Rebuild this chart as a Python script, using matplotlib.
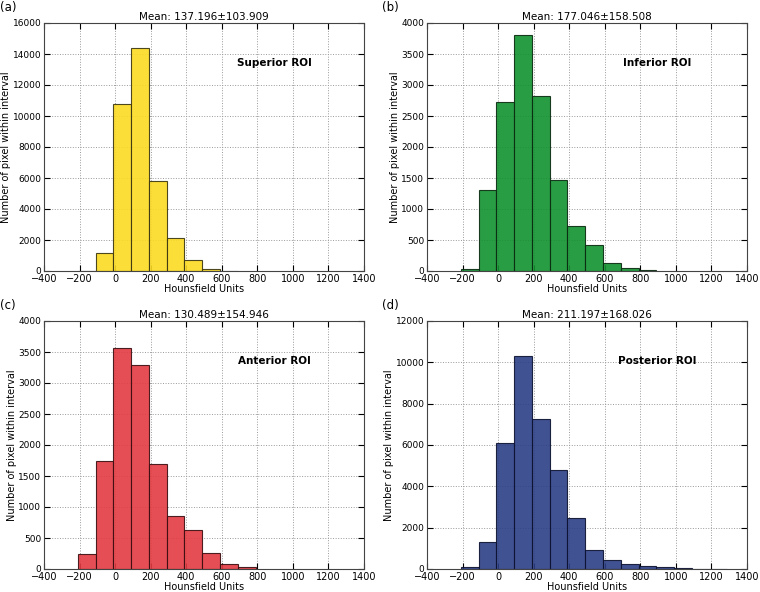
import matplotlib.pyplot as plt
import numpy as np

# bin edges, width 100 HU, starting at -210
EDGE_START = -210
BIN_WIDTH = 100

panel_labels = ['(a)', '(b)', '(c)', '(d)']
roi_names = ['Superior ROI', 'Inferior ROI', 'Anterior ROI', 'Posterior ROI']
titles = ['Mean: 137.196\u00b1103.909', 'Mean: 177.046\u00b1158.508',
          'Mean: 130.489\u00b1154.946', 'Mean: 211.197\u00b1168.026']
y_max = [16000, 4000, 4000, 12000]

# counts per bin, first bin starts at EDGE_START
superior = [0, 1150, 10750, 14400, 5800, 2130, 720, 150, 30]
inferior = [40, 1300, 2730, 3800, 2820, 1460, 720, 420, 130, 55, 20]
anterior = [240, 1740, 3560, 3290, 1690, 860, 630, 260, 85, 25]
posterior = [80, 1300, 6100, 10330, 7280, 4800, 2450, 920, 420, 230, 150, 120, 40, 15, 15]

counts = [superior, inferior, anterior, posterior]
face_colors = ['#fcdb22', '#12922f', '#e43b42', '#2c3f86']
edge_colors = ['#3a3510', '#0a2a10', '#3a0e10', '#0c1230']

plt.rcParams['font.family'] = 'DejaVu Sans'
fig = plt.figure(figsize=(7.6, 5.92), dpi=100)

W, H = 760.0, 592.0
boxes = [(44, 23, 364, 271), (427, 23, 747, 271),
         (44, 321, 364, 569), (427, 321, 747, 569)]

for i in range(4):
    l, t, r, b = boxes[i]
    ax = fig.add_axes([l / W, 1 - b / H, (r - l) / W, (b - t) / H])
    c = counts[i]
    edges = EDGE_START + BIN_WIDTH * np.arange(len(c) + 1)
    ax.hist(edges[:-1], bins=edges, weights=c, color=face_colors[i],
            edgecolor=edge_colors[i], linewidth=0.8, alpha=0.9)
    ax.set_xlim(-400, 1400)
    ax.set_ylim(0, y_max[i])
    ax.set_xticks(np.arange(-400, 1401, 200))
    ax.grid(True, linestyle=':', color='#999999', linewidth=0.7)
    ax.set_axisbelow(True)
    ax.tick_params(direction='in', length=4, pad=2, top=True, right=True)
    ax.tick_params(axis='x', labelsize=7)
    ax.tick_params(axis='y', labelsize=6.5)
    for s in ax.spines.values():
        s.set_color('#444444')
    ax.set_title(titles[i], fontsize=7.5, pad=2)
    ax.set_xlabel('Hounsfield Units', fontsize=7, labelpad=0)
    ax.set_ylabel('Number of pixel within interval', fontsize=7, labelpad=1)
    ax.text(0.72, 0.84, roi_names[i], transform=ax.transAxes, fontsize=7.5,
            fontweight='bold', ha='center', va='center')
    fig.text((l - 44 if i % 2 == 0 else l - 45) / W, 1 - (t - 15) / H,
             panel_labels[i], fontsize=8.5, ha='left', va='center')

plt.savefig('out.png', dpi=100)
